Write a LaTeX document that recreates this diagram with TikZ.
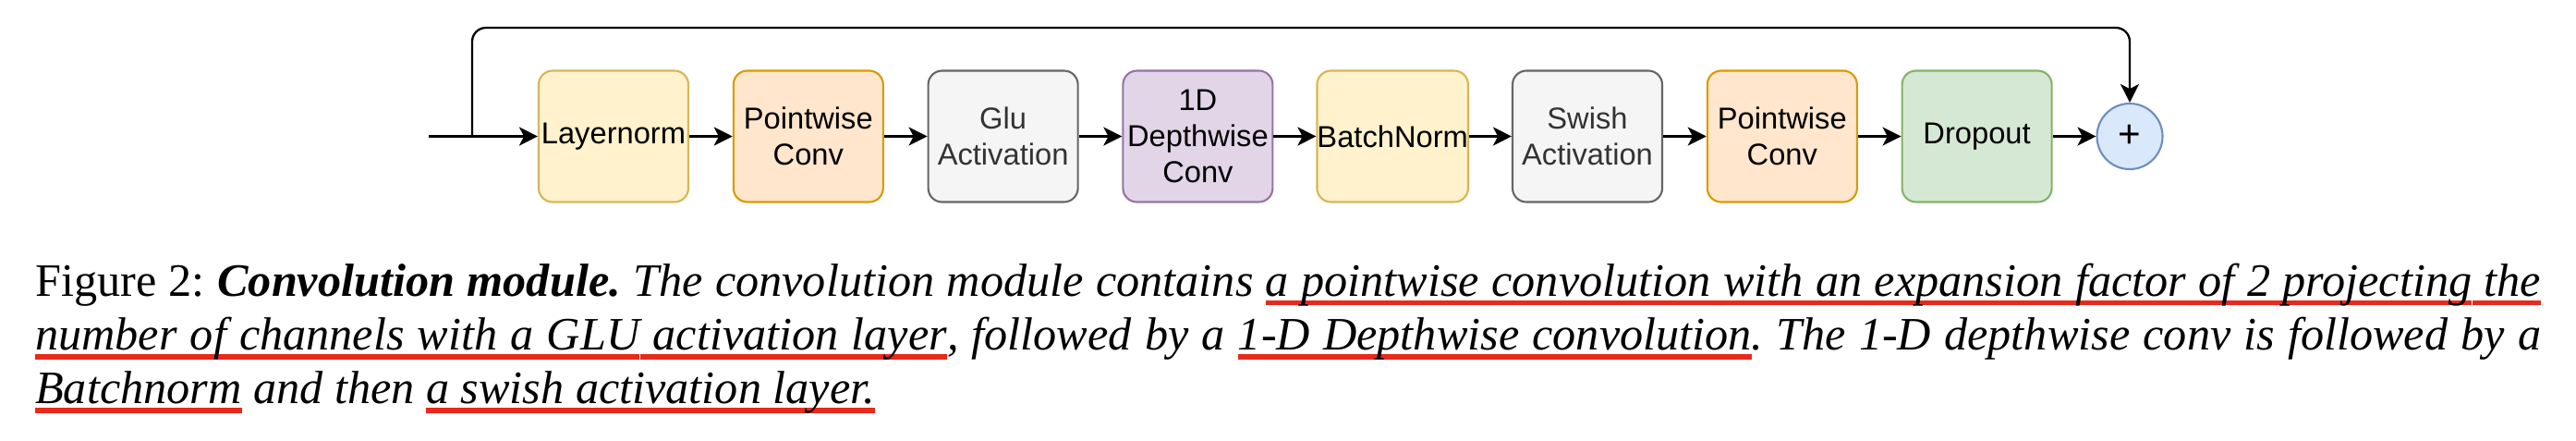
\documentclass[tikz,border=0pt]{standalone}
\usepackage{fontspec}
\setmainfont{Liberation Serif}
\newfontfamily\boxfont{Liberation Sans}
\usetikzlibrary{calc,arrows.meta}

\definecolor{ylwFill}{HTML}{FFF2CC}
\definecolor{ylwLine}{HTML}{D6B656}
\definecolor{orgFill}{HTML}{FFE6CC}
\definecolor{orgLine}{HTML}{D79B00}
\definecolor{gryFill}{HTML}{F5F5F5}
\definecolor{gryLine}{HTML}{666666}
\definecolor{gryText}{HTML}{333333}
\definecolor{prpFill}{HTML}{E1D5E7}
\definecolor{prpLine}{HTML}{9673A6}
\definecolor{grnFill}{HTML}{D5E8D4}
\definecolor{grnLine}{HTML}{82B366}
\definecolor{bluFill}{HTML}{DAE8FC}
\definecolor{bluLine}{HTML}{6C8EBF}
\definecolor{ulred}{HTML}{E8291C}

% 赤い下線 (単語ごと)
\makeatletter
\def\redul#1{\red@ul#1 \@nil}
\def\red@ul#1 #2\@nil{\red@word{#1}\ifx\relax#2\relax\else\red@gap\red@ul#2\@nil\fi}
\def\red@word#1{\setbox0\hbox{#1}\rlap{{\color{ulred}\rule[-2.9pt]{\wd0}{1.6pt}}}\box0\relax}
\def\red@gap{\leaders\hbox{{\color{ulred}\rule[-2.9pt]{0.1pt}{1.6pt}}}\hskip\fontdimen2\font plus\fontdimen3\font minus\fontdimen4\font\relax}
\makeatother

\begin{document}
\begin{tikzpicture}[>=Stealth, font=\small,
  blk/.style={draw, rounded corners=0.15cm, line width=0.6pt,
    minimum width=1.62cm, minimum height=1.42cm, inner sep=0pt,
    align=center, font=\boxfont\fontsize{9.3}{11.1}\selectfont},
  ylw/.style={blk, fill=ylwFill, draw=ylwLine},
  org/.style={blk, fill=orgFill, draw=orgLine},
  gry/.style={blk, fill=gryFill, draw=gryLine, text=gryText},
  prp/.style={blk, fill=prpFill, draw=prpLine},
  grn/.style={blk, fill=grnFill, draw=grnLine},
  conn/.style={-{Stealth[length=5.7pt, width=5.7pt, inset=1.5pt]}, line width=0.65pt}]

  % ===== 枠 =====
  \useasboundingbox (0,0) rectangle (27.88,-4.76);

  % ===== ブロック =====
  \node[ylw] (ln)    at (6.64,-1.475)   {Layernorm};
  \node[org] (pw1)   at (8.748,-1.475)  {Pointwise\\Conv};
  \node[gry] (glu)   at (10.856,-1.475) {Glu\\Activation};
  \node[prp] (dw)    at (12.964,-1.475) {1D\\Depthwise\\Conv};
  \node[ylw] (bn)    at (15.072,-1.475) {BatchNorm};
  \node[gry] (swish) at (17.18,-1.475)  {Swish\\Activation};
  \node[org] (pw2)   at (19.288,-1.475) {Pointwise\\Conv};
  \node[grn] (drop)  at (21.396,-1.475) {Dropout};
  \node[circle, draw=bluLine, fill=bluFill, line width=0.6pt,
    minimum size=0.71cm, inner sep=0pt,
    font=\boxfont\fontsize{12}{14}\selectfont] (plus) at (23.05,-1.475) {+};

  % ===== 接続 =====
  \coordinate (in) at (4.64,-1.475);
  \coordinate (split) at (5.11,-1.475);
  \coordinate (top) at (5.11,-0.30);

  \draw[conn] (in) -- (ln);
  \draw[conn] (ln) -- (pw1);
  \draw[conn] (pw1) -- (glu);
  \draw[conn] (glu) -- (dw);
  \draw[conn] (dw) -- (bn);
  \draw[conn] (bn) -- (swish);
  \draw[conn] (swish) -- (pw2);
  \draw[conn] (pw2) -- (drop);
  \draw[conn] (drop) -- (plus);

  % ===== 残差 =====
  \draw[conn, rounded corners=0.15cm]
  (split) -- (top) -- (plus.north |- top) -- (plus.north);

  % ===== キャプション =====
  \node[anchor=base west, inner sep=0pt, text width=27.12cm, align=justify,
    font=\fontsize{14.3}{16.6}\selectfont\frenchspacing] (cap) at (0.375,-3.20)
  {Figure 2: \textbf{\textit{Convolution module.}} \textit{The convolution module contains
   \redul{a pointwise convolution with an expansion factor of 2 projecting the}\linebreak
   \redul{number of channels with a GLU activation layer}, followed by a
   \redul{1-D Depthwise convolution}. The 1-D depthwise conv is followed by a\linebreak
   \redul{Batchnorm} and then \redul{a swish activation layer.}}};

\end{tikzpicture}
\end{document}
